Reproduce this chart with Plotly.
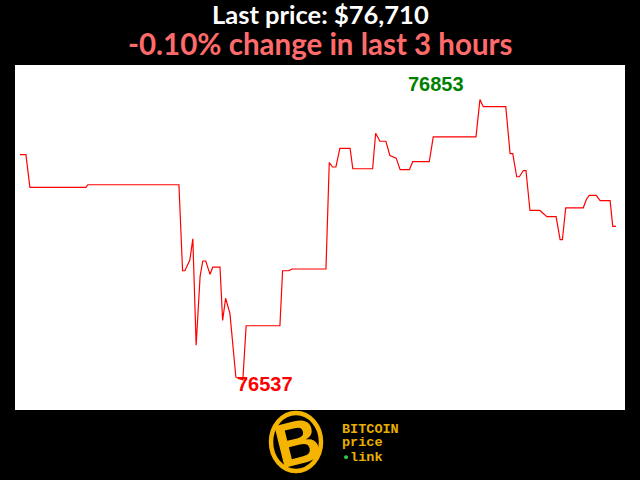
import plotly.graph_objects as go

# minutes since start of the 3-hour window
minutes = [0, 1.8, 3.0, 19.9, 20.5, 48.0, 49.1, 49.8, 51.3, 52.2, 53.2, 54.4, 55.2, 56.1,
           57.4, 58.2, 60.4, 61.2, 62.1, 63.4, 65.2, 67.3, 68.3, 78.5, 79.3, 81.3, 82.1,
           92.4, 93.4, 94.4, 95.4, 96.6, 99.7, 100.5, 106.5, 107.4, 108.7, 110.5, 111.7,
           113.6, 114.8, 117.6, 118.6, 123.6, 124.8, 137.7, 138.9, 139.9, 146.7, 148.0,
           148.8, 150.0, 150.8, 152.0, 152.8, 154.0, 157.0, 159.1, 161.9, 163.1, 163.8,
           164.8, 170.1, 171.1, 171.9, 174.0, 175.2, 178.2, 179.0, 180.0]
prices = [76791, 76791, 76754, 76754, 76757, 76757, 76660, 76660, 76672, 76696, 76576, 76654,
          76671, 76671, 76656, 76664, 76664, 76604, 76629, 76612, 76540, 76537, 76598, 76598,
          76660, 76660, 76662, 76662, 76782, 76777, 76777, 76798, 76798, 76775, 76775, 76815,
          76806, 76806, 76790, 76787, 76774, 76774, 76783, 76783, 76811, 76811, 76853, 76845,
          76845, 76792, 76792, 76766, 76766, 76773, 76773, 76728, 76728, 76721, 76721, 76695,
          76695, 76731, 76731, 76741, 76745, 76745, 76739, 76739, 76710, 76710]

title_line1 = "Last price: $76,710"
title_line2 = "-0.10% change in last 3 hours"
logo_lines = ["BITCOIN", "price", "link"]

imax = prices.index(max(prices))
imin = prices.index(min(prices))

fig = go.Figure()
fig.add_trace(go.Scatter(x=minutes, y=prices, mode="lines",
                         line=dict(color="#ff0000", width=1.2), hoverinfo="skip"))

fig.add_annotation(x=minutes[imax], y=prices[imax], text=f"<b>{prices[imax]}</b>",
                   showarrow=False, xshift=-44, yshift=16,
                   font=dict(family="Liberation Sans", size=20, color="#008000"))
fig.add_annotation(x=minutes[imin], y=prices[imin], text=f"<b>{prices[imin]}</b>",
                   showarrow=False, xshift=22, yshift=-4,
                   font=dict(family="Liberation Sans", size=20, color="#ff0000"))

# titles
fig.add_annotation(xref="paper", yref="paper", x=0.5, y=1, yshift=51, yanchor="middle",
                   text=f"<b>{title_line1}</b>", showarrow=False,
                   font=dict(family="Lato", size=25.5, color="#ffffff"))
fig.add_annotation(xref="paper", yref="paper", x=0.5, y=1, yshift=22, yanchor="middle",
                   text=f"<b>{title_line2}</b>", showarrow=False,
                   font=dict(family="Lato", size=29.5, color="#ff6b6b"))

# logo
gold = "#f5b400"
def px(xp):
    return (xp - 15) / 610
def py(yp):
    return (410 - yp) / 345

fig.add_shape(type="circle", xref="paper", yref="paper",
              x0=px(271), x1=px(321), y0=py(471), y1=py(413),
              line=dict(color=gold, width=4.5), fillcolor="#000000")
fig.add_annotation(xref="paper", yref="paper", x=px(297), y=py(443),
                   xanchor="center", yanchor="middle",
                   text="<b>B</b>", showarrow=False, textangle=-14,
                   font=dict(family="Liberation Sans", size=62, color=gold))
logo_y = [429.5, 443, 457]
for i, line in enumerate(logo_lines):
    txt = f"<b>{line}</b>"
    if i == 2:
        txt = "<b><span style='color:#2ecc40'>•</span>" + line + "</b>"
    fig.add_annotation(xref="paper", yref="paper", x=px(340), y=py(logo_y[i]),
                       xanchor="left", yanchor="middle", align="left",
                       text=txt, showarrow=False,
                       font=dict(family="Liberation Mono", size=13.5, color="#e8b000"))

fig.update_layout(
    width=640, height=480,
    paper_bgcolor="#000000", plot_bgcolor="#ffffff",
    margin=dict(l=15, r=15, t=65, b=70),
    showlegend=False,
    xaxis=dict(range=[-1.5, 182.7], visible=False, showgrid=False, zeroline=False),
    yaxis=dict(range=[76503, 76892], visible=False, showgrid=False, zeroline=False),
)

fig.write_html("out.html", config={"displayModeBar": False},
               post_script="document.body.style.margin='0';document.body.style.background='#000';")
